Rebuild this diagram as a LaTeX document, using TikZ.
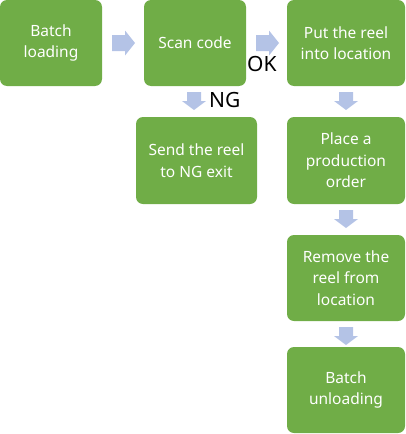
\documentclass[tikz,border=0pt]{standalone}
\usepackage{fontspec}
\setmainfont{Noto Sans}
\definecolor{boxgreen}{HTML}{70AD47}
\definecolor{arrowblue}{HTML}{B4C3E6}
\begin{document}
\begin{tikzpicture}[x=1pt,y=-1pt,
  stepbox/.style={fill=boxgreen,draw=none,rounded corners=7pt,text=white,align=center,font=\fontsize{15.5}{21.5}\selectfont,inner sep=0pt},
  lbl/.style={text=black,font=\fontsize{21}{21}\selectfont,inner sep=0pt},
  rarrow/.pic={\fill[arrowblue] (0,-8)--(13,-8)--(13,-12.5)--(23,0)--(13,12.5)--(13,8)--(0,8)--cycle;},
  darrow/.pic={\fill[arrowblue] (-7,0)--(-7,9)--(-12,9)--(0,18)--(12,9)--(7,9)--(7,0)--cycle;}
]
\useasboundingbox (0,0) rectangle (405,434);
\node[stepbox,minimum width=102pt,minimum height=86pt] (b1) at (51,43) {Batch\\loading};
\node[stepbox,minimum width=102pt,minimum height=86pt] (b2) at (195,43) {Scan code};
\node[stepbox,minimum width=118pt,minimum height=86pt] (b3) at (346,43) {Put the reel\\into location};
\node[stepbox,minimum width=121pt,minimum height=87pt] (ng) at (196.5,160.5) {Send the reel\\to NG exit};
\node[stepbox,minimum width=118pt,minimum height=87pt] (b4) at (346,160.5) {Place a\\production\\order};
\node[stepbox,minimum width=118pt,minimum height=86pt] (b5) at (346,278) {Remove the\\reel from\\location};
\node[stepbox,minimum width=118pt,minimum height=86pt] (b6) at (346,390) {Batch\\unloading};
\pic at (112,43) {rarrow};
\pic at (256,43) {rarrow};
\pic at (194,92) {darrow};
\pic at (346,92) {darrow};
\pic at (346,210) {darrow};
\pic at (346,327) {darrow};
\node[lbl,anchor=west] (ok) at (247,64) {OK};
\node[lbl,anchor=west] (nglbl) at (209,100) {NG};
\end{tikzpicture}
\end{document}
